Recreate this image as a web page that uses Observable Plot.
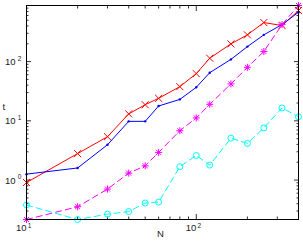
<!DOCTYPE html>
<html><head><meta charset="utf-8">
<script src="https://cdn.jsdelivr.net/npm/d3@7"></script>
<script src="https://cdn.jsdelivr.net/npm/@observablehq/plot@0.6"></script>
<style>body{margin:0;background:#fff}</style>
</head><body><div id="chart"></div>
<script>
const N = [10, 20, 30, 40, 50, 60, 80, 100, 120, 160, 200, 250, 320, 400];
const redT = [0.91, 2.8, 5.4, 13.1, 18.7, 24, 37.8, 62.6, 114, 199, 283, 456, 406, 728];
const blueT = [1.26, 1.6, 3.95, 9.8, 9.8, 17.8, 23, 36.8, 65, 109, 179, 283, 422, 681];
const magentaT = [0.216, 0.354, 0.705, 1.31, 1.74, 2.93, 6.8, 11.2, 19, 42, 80, 148, 422, 885];
const cyanT = [0.38, 0.216, 0.266, 0.294, 0.41, 0.425, 1.68, 2.6, 1.79, 5.1, 4.16, 7.6, 16.5, 11.7];

const xMajor = [10, 100];
const xMinor = [20, 30, 40, 50, 60, 70, 80, 90, 200, 300, 400];
const yMajor = [1, 10, 100];
const yMinor = [0.3, 0.4, 0.5, 0.6, 0.7, 0.8, 0.9, 2, 3, 4, 5, 6, 7, 8, 9, 20, 30, 40, 50, 60, 70, 80, 90, 200, 300, 400, 500, 600, 700, 800];

const series = [
  {name: "red", values: redT, color: "#ff0000", dash: null, marker: "times"},
  {name: "blue", values: blueT, color: "#0000ff", dash: null, marker: "dot"},
  {name: "magenta", values: magentaT, color: "#ff00ff", dash: "6,4", marker: "asterisk"},
  {name: "cyan", values: cyanT, color: "#00ffff", dash: "6,4", marker: "circle"}
];
const rows = series.flatMap(s => N.map((n, i) => ({n, t: s.values[i], s: s.name})));
const yExtent = d3.extent(rows, d => d.t);

const seriesMarks = series.flatMap(s => {
  const data = rows.filter(d => d.s === s.name);
  const line = Plot.line(data, {x: "n", y: "t", stroke: s.color, strokeWidth: 1, strokeDasharray: s.dash});
  let dots;
  if (s.marker === "dot") {
    dots = [Plot.dot(data, {x: "n", y: "t", r: 1.2, fill: s.color, stroke: "none"})];
  } else if (s.marker === "asterisk") {
    dots = [
      Plot.dot(data, {x: "n", y: "t", symbol: "plus", r: 2.4, stroke: s.color, strokeWidth: 1}),
      Plot.dot(data, {x: "n", y: "t", symbol: "times", r: 2.4, stroke: s.color, strokeWidth: 1})
    ];
  } else if (s.marker === "times") {
    dots = [Plot.dot(data, {x: "n", y: "t", symbol: "times", r: 3.3, stroke: s.color, strokeWidth: 1})];
  } else {
    dots = [Plot.dot(data, {x: "n", y: "t", symbol: "circle", r: 3, stroke: s.color, fill: "none", strokeWidth: 1})];
  }
  return [line, ...dots];
});

const tk = {fill: "none", stroke: "black", strokeWidth: 0.8, label: null};
const labelFont = 9.5, supFont = 6.5;

const chart = Plot.plot({
  width: 303, height: 247,
  marginLeft: 26, marginRight: 5, marginTop: 5, marginBottom: 28,
  style: {fontFamily: "'Liberation Sans', Arial, sans-serif", background: "white", color: "black", overflow: "visible"},
  x: {type: "log", domain: [10, 400], label: null},
  y: {type: "log", domain: yExtent, label: null},
  marks: [
    Plot.axisX(xMajor, {anchor: "bottom", tickSize: -5, ...tk}),
    Plot.axisX(xMinor, {anchor: "bottom", tickSize: -2.5, ...tk}),
    Plot.axisX(xMajor, {anchor: "top", tickSize: -5, ...tk}),
    Plot.axisX(xMinor, {anchor: "top", tickSize: -2.5, ...tk}),
    Plot.axisY(yMajor, {anchor: "left", tickSize: -5, ...tk}),
    Plot.axisY(yMinor, {anchor: "left", tickSize: -2.5, ...tk}),
    Plot.axisY(yMajor, {anchor: "right", tickSize: -5, ...tk}),
    Plot.axisY(yMinor, {anchor: "right", tickSize: -2.5, ...tk}),
    ...seriesMarks,
    Plot.frame({stroke: "black", strokeWidth: 1}),
    Plot.text(xMajor, {x: d => d, frameAnchor: "bottom", dy: 11, dx: 0, text: d => "10", textAnchor: "end", fontSize: labelFont, fill: "#222"}),
    Plot.text(xMajor, {x: d => d, frameAnchor: "bottom", dy: 8.5, dx: 1.2, text: d => String(Math.round(Math.log10(d))), textAnchor: "start", fontSize: supFont, fill: "#222"}),
    Plot.text(yMajor, {y: d => d, frameAnchor: "left", dx: -11, dy: 0.5, text: d => "10", textAnchor: "end", fontSize: labelFont, fill: "#222"}),
    Plot.text(yMajor, {y: d => d, frameAnchor: "left", dx: -8.8, dy: -3, text: d => String(Math.round(Math.log10(d))), textAnchor: "start", fontSize: supFont, fill: "#222"}),
    Plot.text(["t"], {frameAnchor: "left", dx: -24, dy: -6, text: d => d, fontSize: labelFont, fill: "#222", textAnchor: "start"}),
    Plot.text(["N"], {frameAnchor: "bottom", dx: -2, dy: 17.5, text: d => d, fontSize: labelFont, fill: "#222"})
  ]
});
document.getElementById("chart").appendChild(chart);
</script>
</body></html>
